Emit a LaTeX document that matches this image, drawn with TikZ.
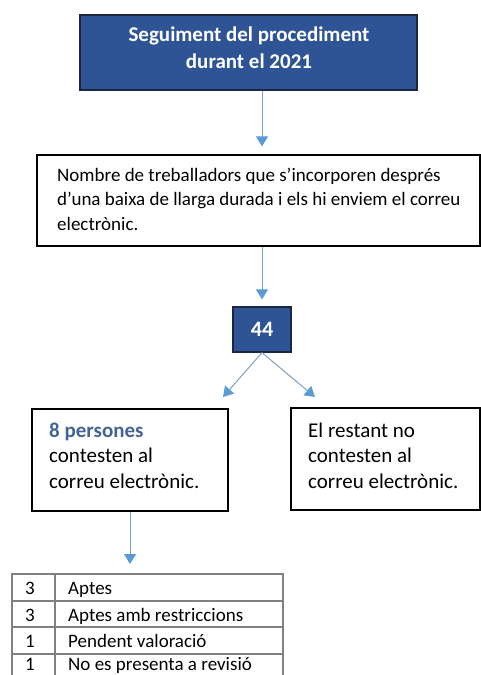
\documentclass[tikz,border=0pt]{standalone}
\usepackage{fontspec}
\setmainfont{Carlito}
\usetikzlibrary{arrows.meta}
\definecolor{navy}{RGB}{47,84,150}
\definecolor{navyborder}{RGB}{28,38,64}
\definecolor{arrowblue}{RGB}{91,155,213}
\definecolor{arrowline}{RGB}{125,160,200}
\definecolor{persblue}{RGB}{68,100,150}
\definecolor{tablegray}{RGB}{128,128,128}
\begin{document}
\begin{tikzpicture}[x=1pt,y=-1pt,
  darkbox/.style={rectangle, draw=navyborder, fill=navy, line width=1.3pt, text=white, inner sep=0pt},
  whitebox/.style={rectangle, draw=black, line width=1.3pt, inner sep=0pt},
  conn/.style={draw=arrowline, line width=1pt, -{Triangle[width=12pt,length=10pt,color=arrowblue]}},
  bigtxt/.style={anchor=base west, align=left, inner sep=0pt, font=\fontsize{21}{25.5}\selectfont},
  midtxt/.style={anchor=base west, align=left, inner sep=0pt, font=\fontsize{19}{24.5}\selectfont},
  celltxt/.style={anchor=base west, inner sep=0pt, font=\fontsize{19}{24}\selectfont},
  tline/.style={draw=tablegray, line width=1.2pt}]
\useasboundingbox (0,0) rectangle (481,675);

% title
\node[darkbox, minimum width=337pt, minimum height=75pt] (title) at (248.5,52.5) {};
\node[anchor=base, align=center, inner sep=0pt, text=white, font=\fontsize{21}{27}\selectfont\bfseries] (titletxt) at (249,68) {Seguiment del procediment\\durant el 2021};

% second box
\node[whitebox, minimum width=443pt, minimum height=91pt] (box2) at (258.5,200.5) {};
\node[midtxt] (box2txt) at (57,230) {Nombre de treballadors que s’incorporen després\\d’una baixa de llarga durada i els hi enviem el correu\\electrònic.};

% 44
\node[darkbox, minimum width=58pt, minimum height=45pt, font=\fontsize{22}{26}\selectfont\bfseries] (n44) at (262,329.5) {44};

% lower boxes
\node[whitebox, minimum width=196pt, minimum height=102pt] (box3) at (130,460) {};
\node[bigtxt] (box3txt) at (49,488) {\textcolor{persblue}{\bfseries 8 persones}\\contesten al\\correu electrònic.};
\node[whitebox, minimum width=189pt, minimum height=102pt] (box4) at (385.5,459) {};
\node[bigtxt] (box4txt) at (308,488) {El restant no\\contesten al\\correu electrònic.};

% table
\draw[tline] (12,680) -- (12,574) -- (283,574) -- (283,680);
\draw[tline] (55,574) -- (55,680);
\draw[tline] (12,601) -- (283,601);
\draw[tline] (12,627) -- (283,627);
\draw[tline] (12,654) -- (283,654);
\node[celltxt] (c11) at (25,594) {3};
\node[celltxt] (c12) at (68,594) {Aptes};
\node[celltxt] (c21) at (25,621) {3};
\node[celltxt] (c22) at (68,621) {Aptes amb restriccions};
\node[celltxt] (c31) at (25,647) {1};
\node[celltxt] (c32) at (68,647) {Pendent valoració};
\node[celltxt] (c41) at (25,670) {1};
\node[celltxt] (c42) at (68,670) {No es presenta a revisió};

% connectors
\coordinate (tipL) at (223,397);
\coordinate (tipR) at (315,397);
\coordinate (tipT) at (130,564);
\draw[conn, shorten >=8pt] (title.south -| n44) -- (box2.north -| n44);
\draw[conn, shorten >=7pt] (box2.south -| n44) -- (n44.north);
\draw[conn] (n44.south) -- (tipL);
\draw[conn] (n44.south) -- (tipR);
\draw[conn] (box3.south) -- (tipT);
\end{tikzpicture}
\end{document}
